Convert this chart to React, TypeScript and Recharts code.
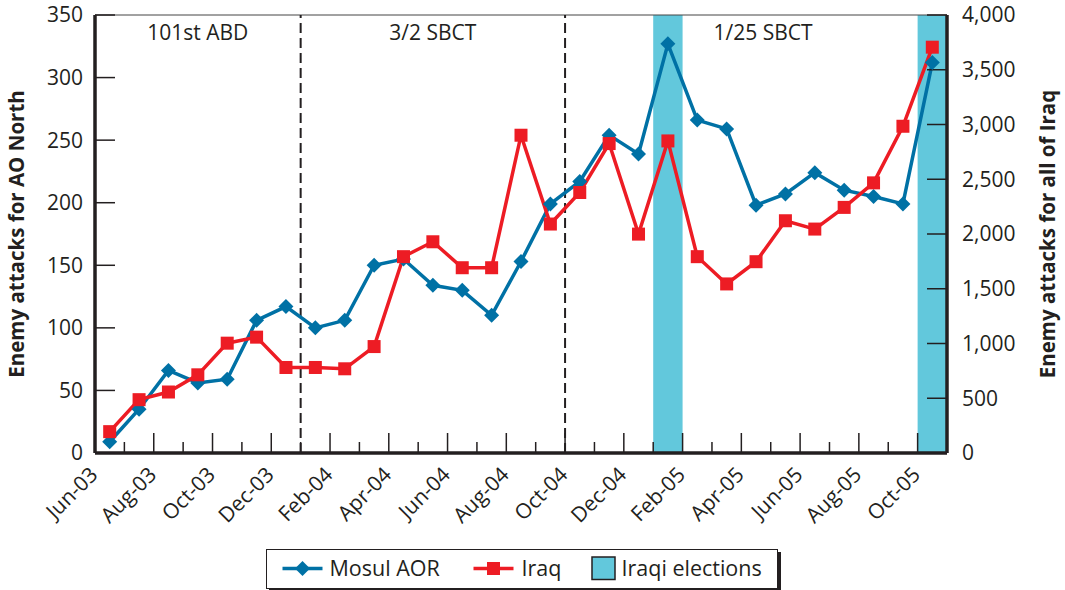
import React from 'react';
import { ComposedChart, Line, XAxis, YAxis, ReferenceArea, ReferenceLine, Legend } from 'recharts';

const months = [
  'Jun-03', 'Jul-03', 'Aug-03', 'Sep-03', 'Oct-03', 'Nov-03', 'Dec-03',
  'Jan-04', 'Feb-04', 'Mar-04', 'Apr-04', 'May-04', 'Jun-04', 'Jul-04', 'Aug-04', 'Sep-04', 'Oct-04', 'Nov-04', 'Dec-04',
  'Jan-05', 'Feb-05', 'Mar-05', 'Apr-05', 'May-05', 'Jun-05', 'Jul-05', 'Aug-05', 'Sep-05', 'Oct-05',
];

const mosulAOR = [
  9, 35, 66, 56, 59, 106, 117,
  100, 106, 150, 155, 134, 130, 110, 153, 199, 217, 254, 239,
  327, 266, 259, 198, 207, 224, 210, 205, 199, 312,
];

const iraqAttacks = [
  195, 487, 557, 714, 1003, 1058, 781,
  781, 769, 972, 1793, 1929, 1692, 1692, 2902, 2091, 2379, 2826, 1999,
  2850, 1793, 1544, 1747, 2121, 2045, 2243, 2467, 2984, 3706,
];

const electionMonths = ['Jan-05', 'Oct-05'];

const unitNames = ['101st ABD', '3/2 SBCT', '1/25 SBCT'];
const unitStarts = ['Jun-03', 'Jan-04', 'Oct-04'];
const unitEnds = ['Dec-03', 'Sep-04', 'Oct-05'];

const leftTicks = [0, 50, 100, 150, 200, 250, 300, 350];
const rightTicks = [0, 500, 1000, 1500, 2000, 2500, 3000, 3500, 4000];

const legendNames = ['Mosul AOR', 'Iraq', 'Iraqi elections'];

const FONT = '"Open Sans", sans-serif';
const INK = '#231f20';
const BLUE = '#0071a5';
const RED = '#ed1c24';
const CYAN = '#62c8dc';

const W = 1065;
const H = 590;
const MARGIN = { top: 15, right: 12, bottom: 57, left: 12 };
const LEFT_AXIS_W = 83;
const RIGHT_AXIS_W = 106;
const X_AXIS_H = 80;
const PLOT_LEFT = MARGIN.left + LEFT_AXIS_W;
const PLOT_RIGHT = W - MARGIN.right - RIGHT_AXIS_W;
const PLOT_BOTTOM = H - MARGIN.bottom - X_AXIS_H;
const BAND = (PLOT_RIGHT - PLOT_LEFT) / months.length;

const data = months.map((m, i) => ({ month: m, mosul: mosulAOR[i], iraq: iraqAttacks[i] }));

function MonthTick(props: any) {
  const { x, payload, index } = props;
  const bx = x - BAND / 2;
  const labeled = index % 2 === 0;
  const ax = bx + 4;
  const ay = PLOT_BOTTOM + 23;
  return (
    <g>
      {index > 0 && (
        <line x1={bx} x2={bx} y1={PLOT_BOTTOM} y2={PLOT_BOTTOM - (labeled ? 20 : 11)} stroke={INK} strokeWidth={1.5} />
      )}
      {labeled && (
        <text
          x={ax}
          y={ay}
          transform={`rotate(-45 ${ax} ${ay})`}
          textAnchor="end"
          fontFamily={FONT}
          fontSize={21}
          fill={INK}
        >
          {payload.value}
        </text>
      )}
    </g>
  );
}

function DiamondDot(props: any) {
  const { cx, cy } = props;
  if (cx == null || cy == null) return null;
  const r = 7.5;
  return <path d={`M${cx},${cy - r}L${cx + r},${cy}L${cx},${cy + r}L${cx - r},${cy}Z`} fill={BLUE} />;
}

function SquareDot(props: any) {
  const { cx, cy } = props;
  if (cx == null || cy == null) return null;
  const s = 13;
  return <rect x={cx - s / 2} y={cy - s / 2} width={s} height={s} fill={RED} />;
}

function LegendBox() {
  const cy = 18.5;
  const textStyle = { fontFamily: FONT, fontSize: 21.5, fill: INK } as any;
  return (
    <div
      style={{
        width: 512,
        height: 40,
        boxSizing: 'border-box',
        border: `1.5px solid ${INK}`,
        boxShadow: `3px 3px 0 ${INK}`,
        background: '#fff',
      }}
    >
      <svg width={509} height={37} style={{ display: 'block' }}>
        <line x1={15.5} x2={55.5} y1={cy} y2={cy} stroke={BLUE} strokeWidth={3.5} />
        <path d={`M35.5,${cy - 7.5}L43,${cy}L35.5,${cy + 7.5}L28,${cy}Z`} fill={BLUE} />
        <text x={62.5} y={cy} dy="0.36em" {...textStyle}>{legendNames[0]}</text>
        <line x1={206.5} x2={246.5} y1={cy} y2={cy} stroke={RED} strokeWidth={3.5} />
        <rect x={220} y={cy - 6.5} width={13} height={13} fill={RED} />
        <text x={254.5} y={cy} dy="0.36em" {...textStyle}>{legendNames[1]}</text>
        <rect x={325} y={7} width={23} height={22.5} fill={CYAN} stroke={INK} strokeWidth={1.5} />
        <text x={354.5} y={cy} dy="0.36em" {...textStyle}>{legendNames[2]}</text>
      </svg>
    </div>
  );
}

export default function App() {
  return (
    <div style={{ position: 'absolute', left: 0, top: 0, width: W, height: H, background: '#fff' }}>
      <ComposedChart width={W} height={H} data={data} margin={MARGIN}>
        {electionMonths.map((m) => (
          <ReferenceArea
            key={m}
            x1={m}
            x2={m}
            yAxisId="left"
            fill={CYAN}
            fillOpacity={1}
            stroke="none"
          />
        ))}
        {unitNames.map((name, i) => (
          <ReferenceArea
            key={name}
            x1={unitStarts[i]}
            x2={unitEnds[i]}
            yAxisId="left"
            fill="none"
            fillOpacity={0}
            stroke="none"
            label={{
              value: name,
              position: 'insideTop',
              offset: 10,
              dx: i === 2 ? 7 : 0,
              fontFamily: FONT,
              fontSize: 21,
              fill: INK,
            }}
          />
        ))}
        <XAxis
          dataKey="month"
          scale="band"
          interval={0}
          height={X_AXIS_H}
          tickLine={false}
          axisLine={{ stroke: INK, strokeWidth: 3.5 }}
          tick={<MonthTick />}
        />
        <YAxis
          yAxisId="left"
          width={LEFT_AXIS_W}
          domain={[0, 350]}
          ticks={leftTicks}
          interval={0}
          tickSize={-20}
          tickMargin={32}
          axisLine={{ stroke: INK, strokeWidth: 3.5 }}
          tickLine={{ stroke: INK, strokeWidth: 1.5 }}
          tick={{ fontFamily: FONT, fontSize: 21, fill: INK }}
          label={{
            value: 'Enemy attacks for AO North',
            angle: -90,
            position: 'insideLeft',
            offset: 5,
            style: { textAnchor: 'middle', fontFamily: FONT, fontSize: 20.5, fontWeight: 700, fill: INK },
          }}
        />
        <YAxis
          yAxisId="right"
          orientation="right"
          width={RIGHT_AXIS_W}
          domain={[0, 4000]}
          ticks={rightTicks}
          interval={0}
          tickSize={-20}
          tickMargin={35}
          tickFormatter={(v: number) => v.toLocaleString('en-US')}
          axisLine={{ stroke: INK, strokeWidth: 3.5 }}
          tickLine={{ stroke: INK, strokeWidth: 1.5 }}
          tick={{ fontFamily: FONT, fontSize: 21, fill: INK }}
          label={{
            value: 'Enemy attacks for all of Iraq',
            angle: -90,
            position: 'insideRight',
            offset: 5,
            style: { textAnchor: 'middle', fontFamily: FONT, fontSize: 20.5, fontWeight: 700, fill: INK },
          }}
        />
        <ReferenceLine yAxisId="left" y={350} stroke="#444" strokeWidth={1} />
        {unitStarts.slice(1).map((m) => (
          <ReferenceLine
            key={m}
            x={m}
            yAxisId="left"
            position="start"
            stroke={INK}
            strokeWidth={2}
            strokeDasharray="10 5"
          />
        ))}
        <Line
          yAxisId="left"
          dataKey="mosul"
          name={legendNames[0]}
          stroke={BLUE}
          strokeWidth={3.5}
          dot={<DiamondDot />}
          activeDot={false}
          isAnimationActive={false}
        />
        <Line
          yAxisId="right"
          dataKey="iraq"
          name={legendNames[1]}
          stroke={RED}
          strokeWidth={3.5}
          dot={<SquareDot />}
          activeDot={false}
          isAnimationActive={false}
        />
        <Legend
          verticalAlign="middle"
          align="center"
          layout="horizontal"
          wrapperStyle={{ left: 266, top: 549, width: 515, height: 43 }}
          content={() => <LegendBox />}
        />
      </ComposedChart>
    </div>
  );
}
